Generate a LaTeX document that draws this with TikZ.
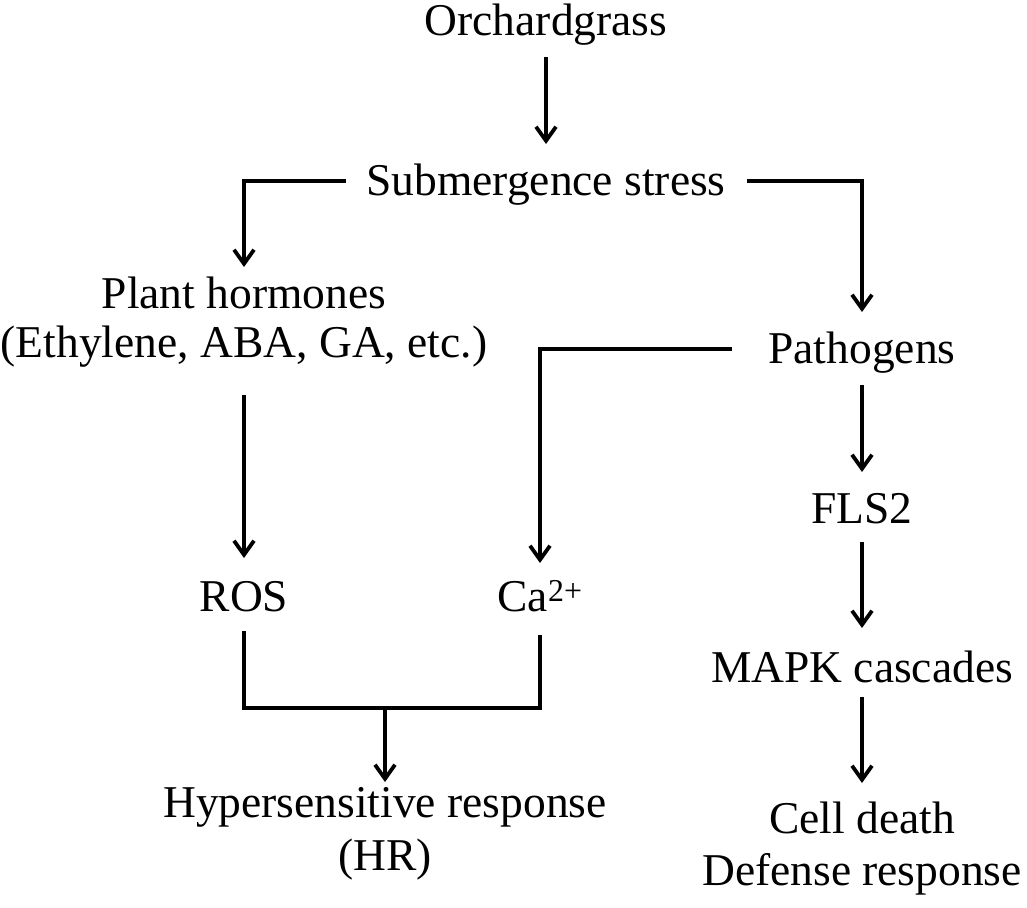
\documentclass[tikz,border=0pt]{standalone}
\usepackage{fontspec}
\setmainfont{Liberation Serif}
\usetikzlibrary{arrows.meta}
\begin{document}
\begin{tikzpicture}[x=1pt,y=-1pt,
  lbl/.style={inner sep=0pt,anchor=base,font=\fontsize{45.5}{54}\selectfont},
  conn/.style={line width=3.8pt,line join=miter},
  arr/.style={conn,-{Straight Barb[length=14pt,width=20pt]}}]
\useasboundingbox (0,0) rectangle (1027,907);
% nodes
\node[lbl] (orch) at (546,36) {Orchardgrass};
\node[lbl] (sub) at (546,195) {Submergence stress};
\node[lbl] (ph) at (244,308) {Plant hormones};
\node[lbl] (phb) at (244,357) {(Ethylene, ABA, GA, etc.)};
\node[lbl] (path) at (862,363) {Pathogens};
\node[lbl] (fls) at (862,523) {FLS2};
\node[lbl] (ros) at (244,611) {ROS};
\node[lbl] (ca) at (540,611) {Ca\textsuperscript{2+}};
\node[lbl] (mapk) at (862,682) {MAPK cascades};
\node[lbl] (hyp) at (385,817) {Hypersensitive response};
\node[lbl] (hr) at (385,870) {(HR)};
\node[lbl] (cd) at (862,833) {Cell death};
\node[lbl] (dr) at (862,885) {Defense response};
% connectors
\draw[arr] ([yshift=-21pt]orch.base) -- ([yshift=51pt]sub.base);
\draw[arr] ([shift={(-20pt,14pt)}]sub.base west) -| ([yshift=41pt]ph.base);
\draw[arr] ([shift={(21pt,14pt)}]sub.base east) -| ([yshift=51pt]path.base);
\draw[arr] ([yshift=-38pt]phb.base) -- ([yshift=53pt]ros.base);
\draw[arr] ([shift={(-36pt,14pt)}]path.base west) -| ([yshift=48pt]ca.base);
\draw[conn] ([yshift=-20pt]ros.base) -- ([yshift=-97pt]ros.base) -| ([yshift=-24pt]ca.base);
\draw[arr] ([yshift=110pt]hyp.base) -- ([yshift=35pt]hyp.base);
\draw[arr] ([yshift=-22pt]path.base) -- ([yshift=51pt]fls.base);
\draw[arr] ([yshift=-19pt]fls.base) -- ([yshift=54pt]mapk.base);
\draw[arr] ([yshift=-15pt]mapk.base) -- ([yshift=50pt]cd.base);
\end{tikzpicture}
\end{document}
